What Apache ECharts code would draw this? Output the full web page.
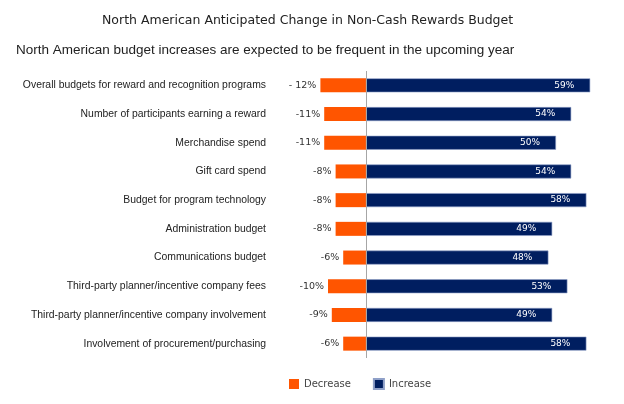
<!DOCTYPE html>
<html>
<head>
<meta charset="utf-8">
<script src="https://cdn.jsdelivr.net/npm/echarts@6/dist/echarts.min.js"></script>
<style>html,body{margin:0;padding:0;background:#fff}#c{width:624px;height:404px}</style>
</head>
<body>
<div id="c"></div>
<script>
const categories = [
  'Overall budgets for reward and recognition programs',
  'Number of participants earning a reward',
  'Merchandise spend',
  'Gift card spend',
  'Budget for program technology',
  'Administration budget',
  'Communications budget',
  'Third-party planner/incentive company fees',
  'Third-party planner/incentive company involvement',
  'Involvement of procurement/purchasing'
];
const decreaseValues = [-12, -11, -11, -8, -8, -8, -6, -10, -9, -6];
const increaseValues = [59, 54, 50, 54, 58, 49, 48, 53, 49, 58];
const decreaseLabels = ['- 12%', '-11%', '-11%', '-8%', '-8%', '-8%', '-6%', '-10%', '-9%', '-6%'];
const titleText = 'North American Anticipated Change in Non-Cash Rewards Budget';
const subtitleText = 'North American budget increases are expected to be frequent in the upcoming year';

const chart = echarts.init(document.getElementById('c'), null, {renderer: 'canvas'});
chart.setOption({
  animation: false,
  backgroundColor: '#fff',
  title: [
    {text: titleText, left: 97, top: 9, textStyle: {fontFamily: 'DejaVu Sans', fontSize: 12.5, fontWeight: 'normal', color: '#222'}},
    {text: subtitleText, left: 11, top: 38, textStyle: {fontFamily: 'Liberation Sans', fontSize: 13.5, fontWeight: 'normal', color: '#222'}}
  ],
  legend: {
    data: ['Decrease', 'Increase'],
    left: 284, top: 373,
    icon: 'rect', itemWidth: 10, itemHeight: 10, itemGap: 22,
    textStyle: {fontFamily: 'DejaVu Sans', fontSize: 10, color: '#444'}
  },
  grid: {left: 290, right: 30, top: 71, bottom: 46, containLabel: false, outerBoundsMode: 'none'},
  xAxis: {type: 'value', min: -20, max: 60, show: false},
  yAxis: {
    type: 'category', data: categories, inverse: true,
    axisLine: {show: false}, axisTick: {show: false},
    axisLabel: {margin: 24, fontFamily: 'Liberation Sans', fontSize: 10.4, color: '#222'}
  },
  series: [
    {
      name: 'Decrease', type: 'bar', data: decreaseValues, barWidth: 14, barGap: '-100%',
      itemStyle: {color: '#FF5500'},
      label: {show: true, position: 'left', distance: 4, fontFamily: 'DejaVu Sans', fontSize: 9.5, color: '#333',
        formatter: p => decreaseLabels[p.dataIndex]},
      markLine: {silent: true, symbol: 'none', label: {show: false},
        lineStyle: {color: '#a6a6a6', width: 1, type: 'solid'}, data: [{xAxis: 0}]}
    },
    {
      name: 'Increase', type: 'bar', data: increaseValues, barWidth: 14,
      itemStyle: {color: '#001E60', borderColor: '#8fa0c8', borderWidth: 0.6},
      label: {show: true, position: 'insideRight', distance: 16, fontFamily: 'DejaVu Sans', fontSize: 9, color: '#fff',
        formatter: p => p.value + '%'}
    }
  ]
});
</script>
</body>
</html>
